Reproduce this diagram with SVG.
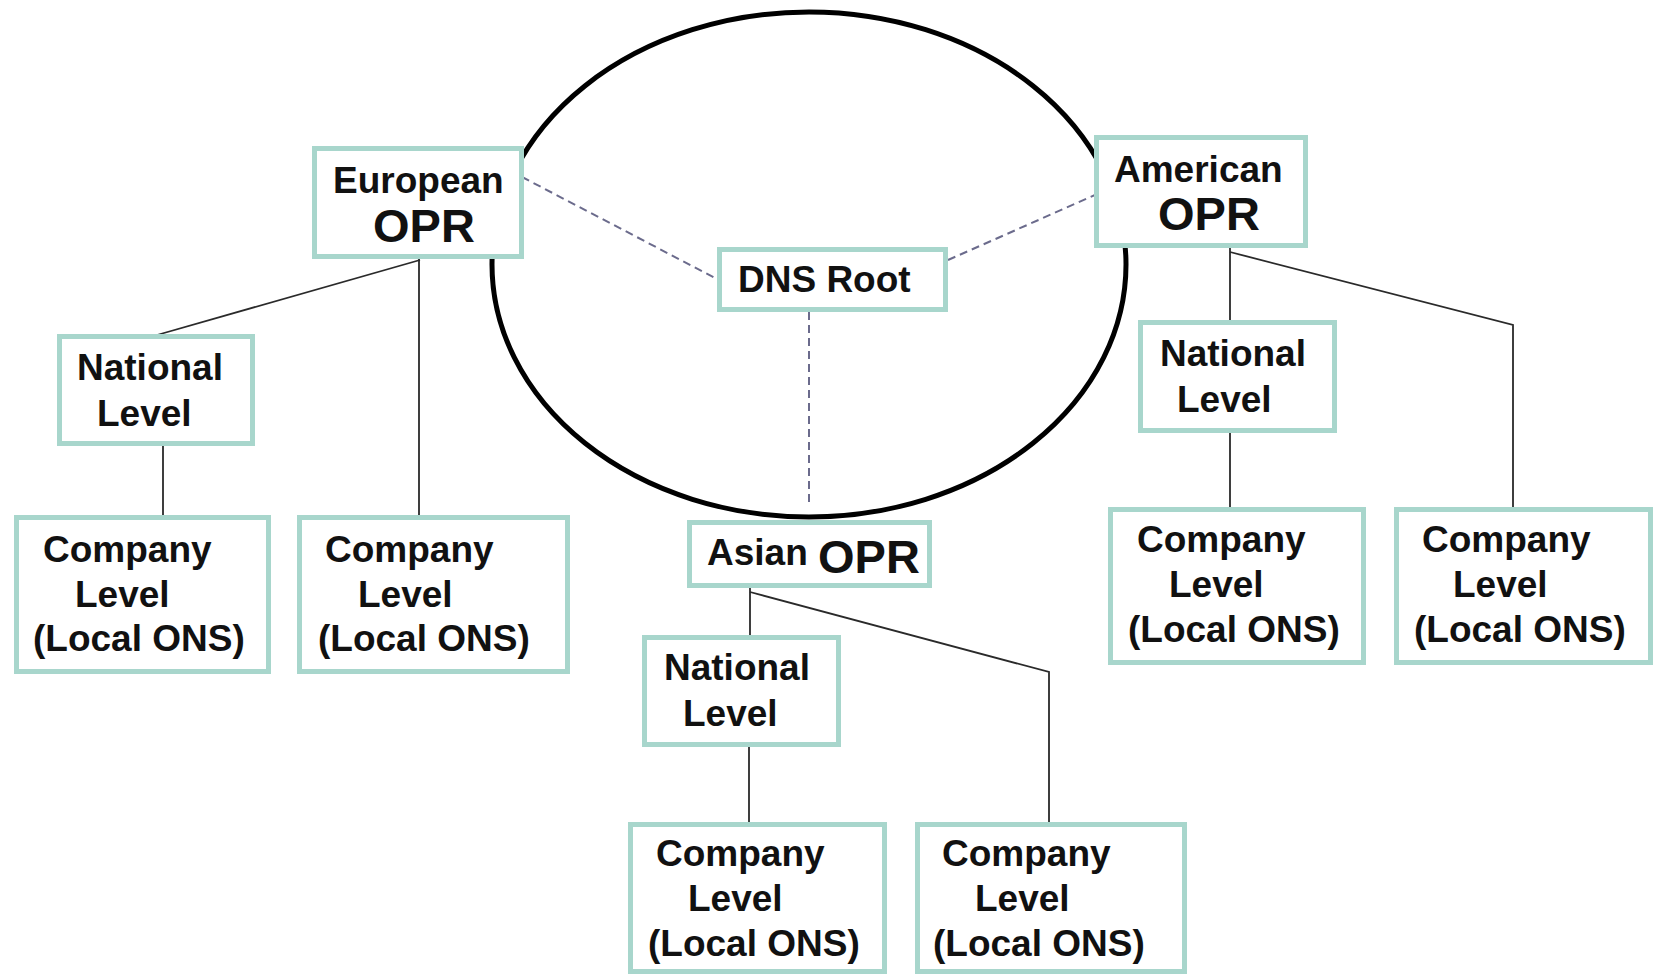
<svg xmlns="http://www.w3.org/2000/svg" width="1654" height="977" viewBox="0 0 1654 977">
  <style>
    .box { fill: #ffffff; stroke: #a8d6cc; stroke-width: 5; }
    .link { fill: none; stroke: #2a2a2a; stroke-width: 1.8; }
    .dash { fill: none; stroke: #6b6b8c; stroke-width: 2; stroke-dasharray: 8 5; }
    .ring { fill: none; stroke: #000000; stroke-width: 5; }
    text { font-family: "Liberation Sans", Arial, sans-serif; font-weight: bold; font-size: 37px; fill: #111111; }
    .big { font-size: 47px; }
  </style>

  <rect width="1654" height="977" fill="#ffffff"/>

  <!-- root zone ring -->
  <ellipse class="ring" cx="809" cy="264.5" rx="317" ry="252.5"/>

  <g id="connectors">
    <!-- links from the DNS root to the regional OPRs -->
    <line class="dash" x1="522" y1="177" x2="717" y2="279"/>
    <line class="dash" x1="948" y1="260" x2="1095" y2="195"/>
    <line class="dash" x1="809" y1="312" x2="809" y2="503"/>
    <!-- European branch -->
    <line class="link" x1="419" y1="257" x2="419" y2="515"/>
    <line class="link" x1="420" y1="260" x2="157" y2="335"/>
    <line class="link" x1="163" y1="446" x2="163" y2="515"/>
    <!-- American branch -->
    <line class="link" x1="1230" y1="246" x2="1230" y2="320"/>
    <polyline class="link" points="1230,252 1513,325 1513,507"/>
    <line class="link" x1="1230" y1="433" x2="1230" y2="507"/>
    <!-- Asian branch -->
    <line class="link" x1="750" y1="586" x2="750" y2="635"/>
    <polyline class="link" points="750,592 1049,672 1049,822"/>
    <line class="link" x1="749" y1="747" x2="749" y2="822"/>
  </g>

  <g id="european-opr">
    <rect class="box" x="314.5" y="148.5" width="207" height="108"/>
    <text x="333" y="193">European</text>
    <text class="big" x="373" y="242">OPR</text>
  </g>

  <g id="dns-root">
    <rect class="box" x="719.5" y="249.5" width="226" height="60"/>
    <text x="738" y="292">DNS Root</text>
  </g>

  <g id="american-opr">
    <rect class="box" x="1096.5" y="137.5" width="209" height="108"/>
    <text x="1114" y="182">American</text>
    <text class="big" x="1158" y="230">OPR</text>
  </g>

  <g id="asian-opr">
    <rect class="box" x="689.5" y="522.5" width="240" height="63"/>
    <text x="707" y="565">Asian</text>
    <text class="big" x="818" y="573">OPR</text>
  </g>

  <g id="eu-national">
    <rect class="box" x="59.5" y="336.5" width="193" height="107"/>
    <text x="77" y="380">National</text>
    <text x="97" y="426">Level</text>
  </g>

  <g id="eu-company-1">
    <rect class="box" x="16.5" y="517.5" width="252" height="154"/>
    <text x="43" y="562">Company</text>
    <text x="75" y="607">Level</text>
    <text x="33" y="651">(Local ONS)</text>
  </g>

  <g id="eu-company-2">
    <rect class="box" x="299.5" y="517.5" width="268" height="154"/>
    <text x="325" y="562">Company</text>
    <text x="358" y="607">Level</text>
    <text x="318" y="651">(Local ONS)</text>
  </g>

  <g id="am-national">
    <rect class="box" x="1140.5" y="322.5" width="194" height="108"/>
    <text x="1160" y="366">National</text>
    <text x="1177" y="412">Level</text>
  </g>

  <g id="am-company-1">
    <rect class="box" x="1110.5" y="509.5" width="253" height="153"/>
    <text x="1137" y="552">Company</text>
    <text x="1169" y="597">Level</text>
    <text x="1128" y="642">(Local ONS)</text>
  </g>

  <g id="am-company-2">
    <rect class="box" x="1396.5" y="509.5" width="254" height="153"/>
    <text x="1422" y="552">Company</text>
    <text x="1453" y="597">Level</text>
    <text x="1414" y="642">(Local ONS)</text>
  </g>

  <g id="as-national">
    <rect class="box" x="644.5" y="637.5" width="194" height="107"/>
    <text x="664" y="680">National</text>
    <text x="683" y="726">Level</text>
  </g>

  <g id="as-company-1">
    <rect class="box" x="630.5" y="824.5" width="254" height="147"/>
    <text x="656" y="866">Company</text>
    <text x="688" y="911">Level</text>
    <text x="648" y="956">(Local ONS)</text>
  </g>

  <g id="as-company-2">
    <rect class="box" x="917.5" y="824.5" width="267" height="147"/>
    <text x="942" y="866">Company</text>
    <text x="975" y="911">Level</text>
    <text x="933" y="956">(Local ONS)</text>
  </g>
</svg>
